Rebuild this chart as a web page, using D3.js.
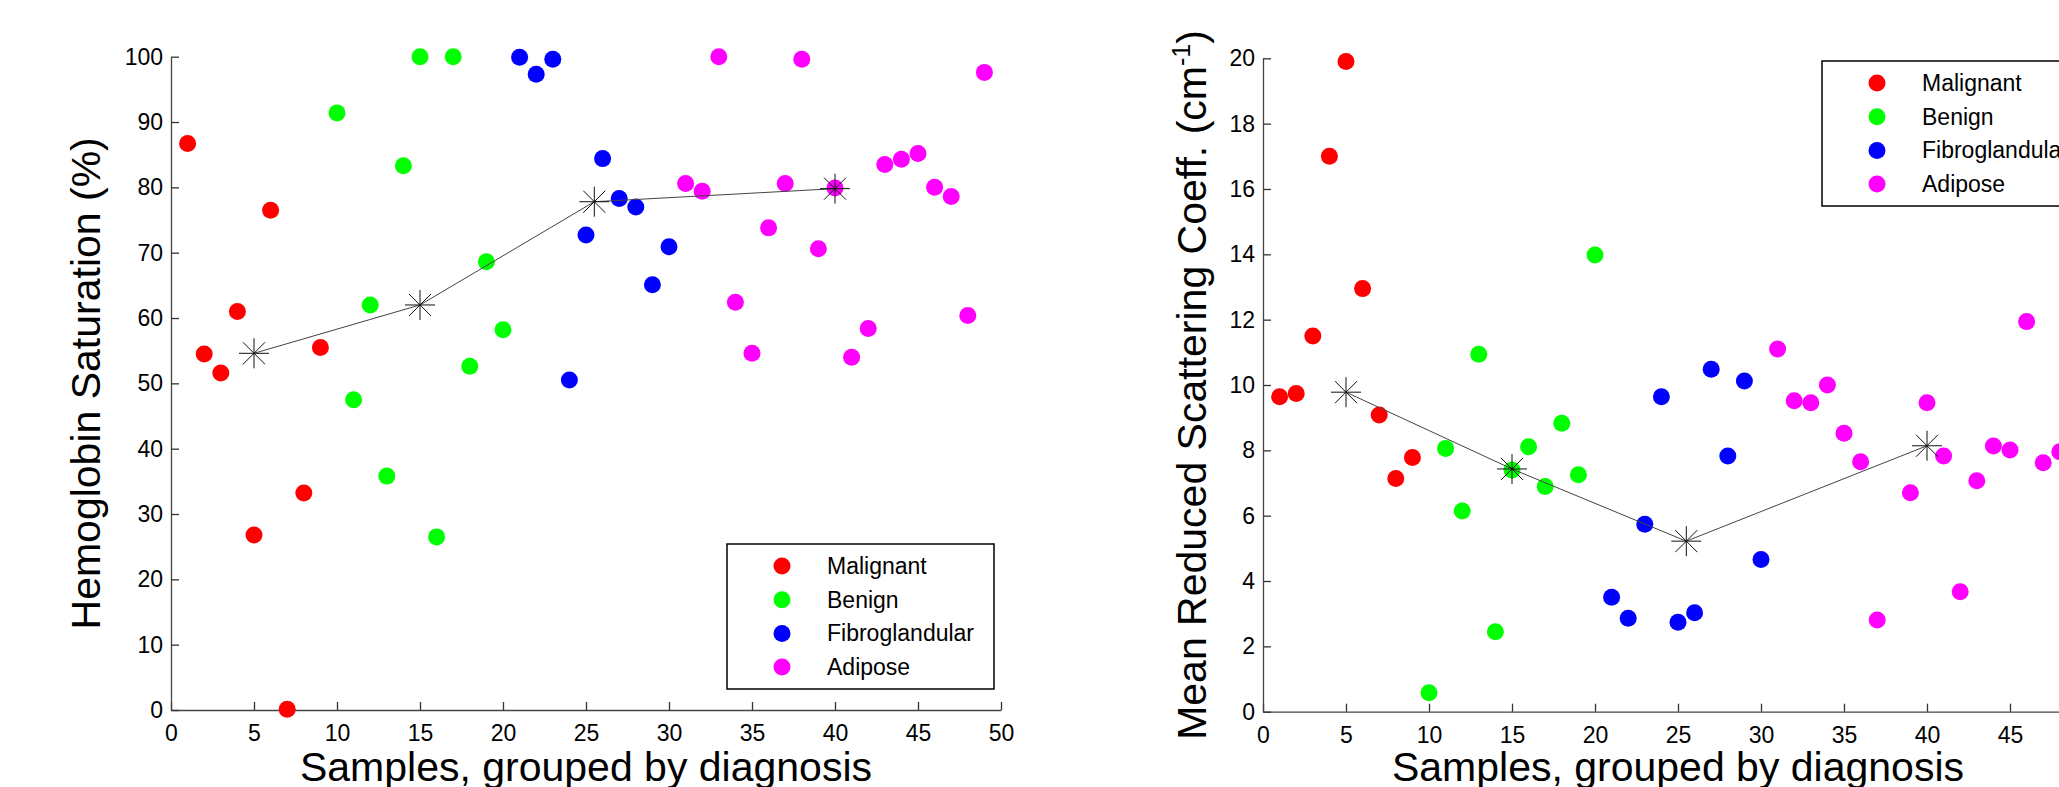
<!DOCTYPE html>
<html>
<head>
<meta charset="utf-8">
<script src="https://cdn.jsdelivr.net/npm/d3@7"></script>
<style>
  body { margin: 0; background: #fff; }
  svg { display: block; font-family: "Liberation Sans", Arial, sans-serif; }
</style>
</head>
<body>
<div id="main"></div>
<script>
// sample numbers for each diagnosis group
let malignantX = [1, 2, 3, 4, 5, 6, 7, 8, 9];
let benignX = [10, 11, 12, 13, 14, 15, 16, 17, 18, 19, 20];
let fibroX = [21, 22, 23, 24, 25, 26, 27, 28, 29, 30];
let adiposeX = [31, 32, 33, 34, 35, 36, 37, 38, 39, 40, 41, 42, 43, 44, 45, 46, 47, 48, 49];
let adiposeX2 = [31, 32, 33, 34, 35, 36, 37, 39, 40, 41, 42, 43, 44, 45, 46, 47, 48];

// hemoglobin saturation (%)
let hbMalignant = [86.7, 54.5, 51.6, 61.0, 26.8, 76.5, 0.1, 33.2, 55.5];
let hbBenign = [91.4, 47.5, 62.0, 35.8, 83.3, 100, 26.5, 100, 52.6, 68.6, 58.2];
let hbFibro = [99.9, 97.3, 99.6, 50.5, 72.7, 84.4, 78.3, 77.0, 65.1, 70.9];
let hbAdipose = [80.6, 79.4, 100, 62.4, 54.6, 73.8, 80.6, 99.6, 70.6, 79.9, 54.0, 58.4, 83.5, 84.3, 85.2, 80.0, 78.6, 60.4, 97.6];

// mean reduced scattering coeff (cm-1)
let musMalignant = [9.64, 9.74, 11.5, 17.0, 19.9, 12.95, 9.08, 7.14, 7.78];
let musBenign = [0.58, 8.06, 6.14, 10.94, 2.45, 7.40, 8.11, 6.89, 8.83, 7.25, 13.98];
let musFibro = [3.50, 2.86, 5.74, 9.64, 2.74, 3.03, 10.48, 7.83, 10.12, 4.66];
let musAdipose = [11.10, 9.52, 9.46, 10.0, 8.52, 7.65, 2.81, 6.70, 9.46, 7.83, 3.67, 7.07, 8.13, 8.01, 11.94, 7.62, 7.96];

// group means (star markers)
let meanX = [5, 15, 25.5, 40];
let hbMeans = [54.6, 62.0, 77.8, 79.8];
let musMeans = [9.78, 7.43, 5.22, 8.14];

let groupNames = ["Malignant", "Benign", "Fibroglandular", "Adipose"];
let groupColors = ["#ff0000", "#00ff00", "#0000ff", "#ff00ff"];

let xTicks = d3.range(0, 51, 5);
let hbTicks = d3.range(0, 101, 10);
let musTicks = d3.range(0, 21, 2);

let width = 2059, height = 787;

let svg = d3.select("#main")
    .append("svg")
    .attr("width", width)
    .attr("height", height);

svg.append("rect").attr("width", width).attr("height", height).attr("fill", "#fff");

function pairs(xs, ys){
    return xs.map((x, i) => ({x: x, y: ys[i]}));
}

function starPath(){
    let r = 15, d = 11;
    return `M${-r},0L${r},0M0,${-r}L0,${r}M${-d},${-d}L${d},${d}M${-d},${d}L${d},${-d}`;
}

function drawPanel(opt){
    let xScale = d3.scaleLinear().domain([0, 50]).range([opt.x0, opt.x1]);
    let yScale = d3.scaleLinear().domain(opt.yDomain).range([opt.y0, opt.y1]);

    let g = svg.append("g");

    // axes
    let xAxis = d3.axisBottom(xScale).tickValues(xTicks).tickSizeInner(-8).tickSizeOuter(0).tickPadding(15);
    let gx = g.append("g")
        .attr("transform", `translate(0,${opt.y0})`)
        .call(xAxis);
    let yAxis = d3.axisLeft(yScale).tickValues(opt.yTicks).tickSizeInner(-8).tickSizeOuter(0).tickPadding(8);
    let gy = g.append("g")
        .attr("transform", `translate(${opt.x0},0)`)
        .call(yAxis);
    [gx, gy].forEach(a => {
        a.select(".domain").attr("stroke", "#444").attr("stroke-width", 1.3);
        a.selectAll(".tick line").attr("stroke", "#333").attr("stroke-width", 1.3);
        a.selectAll(".tick text").attr("font-size", 23).attr("fill", "#000")
            .attr("font-family", "Liberation Sans, Arial, sans-serif");
    });

    // dots
    opt.groups.forEach((grp, gi) => {
        g.append("g").selectAll("circle")
            .data(pairs(grp.x, grp.y))
            .enter()
            .append("circle")
            .attr("cx", d => xScale(d.x))
            .attr("cy", d => yScale(d.y))
            .attr("r", 8.5)
            .attr("fill", groupColors[gi]);
    });

    // mean line + stars
    let means = pairs(meanX, opt.means);
    g.append("path")
        .datum(means)
        .attr("fill", "none")
        .attr("stroke", "#444")
        .attr("stroke-width", 1)
        .attr("d", d3.line().x(d => xScale(d.x)).y(d => yScale(d.y)));
    g.selectAll(".star")
        .data(means)
        .enter()
        .append("path")
        .attr("class", "star")
        .attr("transform", d => `translate(${xScale(d.x)},${yScale(d.y)})`)
        .attr("d", starPath())
        .attr("stroke", "#111")
        .attr("stroke-width", 1)
        .attr("fill", "none");

    // axis titles
    g.append("text")
        .attr("x", (opt.x0 + opt.x1) / 2)
        .attr("y", 781)
        .attr("text-anchor", "middle")
        .attr("font-size", 41)
        .text("Samples, grouped by diagnosis");

    let yt = g.append("text")
        .attr("transform", `translate(${opt.titleX},${(opt.y0 + opt.y1) / 2}) rotate(-90)`)
        .attr("text-anchor", "middle")
        .attr("font-size", 41);
    opt.yTitle(yt);

    // legend
    let lg = g.append("g").attr("transform", `translate(${opt.legX},${opt.legY})`);
    lg.append("rect")
        .attr("width", 267).attr("height", 145)
        .attr("fill", "#fff").attr("stroke", "#000").attr("stroke-width", 1.5);
    groupNames.forEach((name, i) => {
        let ly = 22 + i * 33.7;
        lg.append("circle").attr("cx", 55).attr("cy", ly).attr("r", 8.5).attr("fill", groupColors[i]);
        lg.append("text").attr("x", 100).attr("y", ly).attr("dy", "0.35em")
            .attr("font-size", 23).text(name);
    });
}

drawPanel({
    x0: 171, x1: 1001, y0: 710, y1: 56.7,
    yDomain: [0, 100], yTicks: hbTicks,
    groups: [
        {x: malignantX, y: hbMalignant},
        {x: benignX, y: hbBenign},
        {x: fibroX, y: hbFibro},
        {x: adiposeX, y: hbAdipose}
    ],
    means: hbMeans,
    titleX: 100,
    yTitle: t => t.text("Hemoglobin Saturation (%)"),
    legX: 727, legY: 544
});

drawPanel({
    x0: 1263, x1: 2093, y0: 711.7, y1: 58.3,
    yDomain: [0, 20], yTicks: musTicks,
    groups: [
        {x: malignantX, y: musMalignant},
        {x: benignX, y: musBenign},
        {x: fibroX, y: musFibro},
        {x: adiposeX2, y: musAdipose}
    ],
    means: musMeans,
    titleX: 1206,
    yTitle: t => {
        t.append("tspan").text("Mean Reduced Scattering Coeff. (cm");
        t.append("tspan").attr("font-size", 25).attr("dy", -16).text("-1");
        t.append("tspan").attr("dy", 16).text(")");
    },
    legX: 1822, legY: 61
});
</script>
</body>
</html>
